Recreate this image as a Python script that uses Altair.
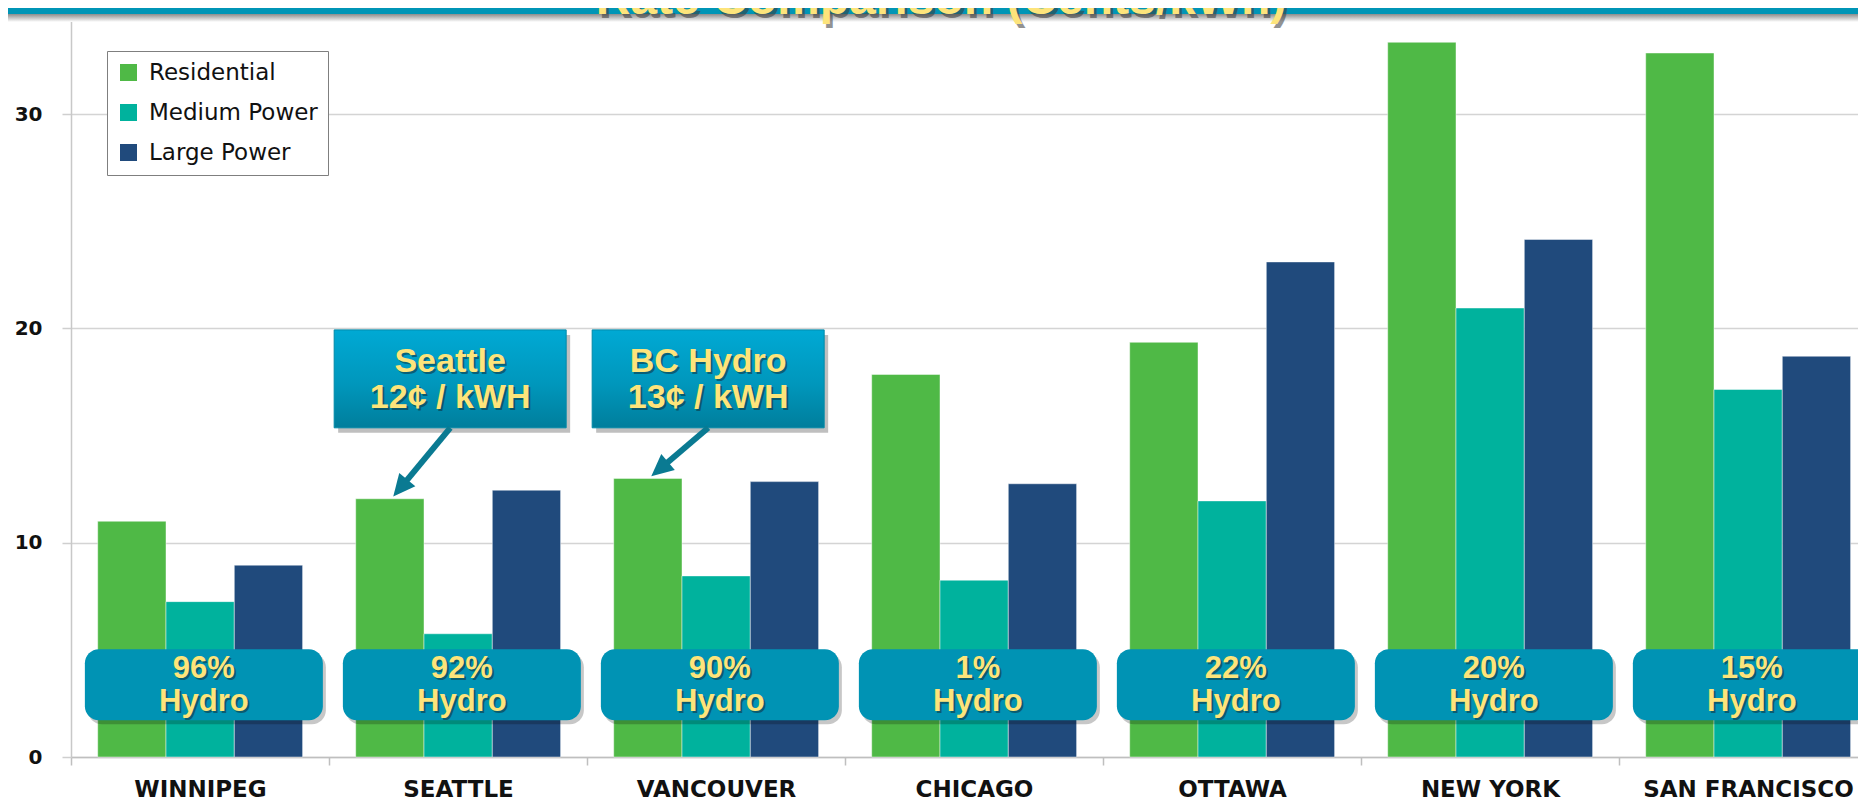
import json
import math
import altair as alt
import pandas as pd

# ---------------- data ----------------
cities = ["WINNIPEG", "SEATTLE", "VANCOUVER", "CHICAGO", "OTTAWA", "NEW YORK", "SAN FRANCISCO"]
series = ["Residential", "Medium Power", "Large Power"]
residential = [11.0, 12.05, 13.0, 17.85, 19.35, 33.35, 32.85]
medium_power = [7.25, 5.75, 8.45, 8.25, 11.95, 20.95, 17.15]
large_power = [8.95, 12.45, 12.85, 12.75, 23.1, 24.15, 18.7]
hydro_pct = [96, 92, 90, 1, 22, 20, 15]
callout_cities = ["SEATTLE", "VANCOUVER"]
callout_titles = ["Seattle", "BC Hydro"]
callout_rates = [12, 13]
title_text = "Rate Comparison (Cents/kWh)"

# ---------------- styling / layout ----------------
colors = ["#4FB946", "#00B29D", "#204A7C"]
YELLOW = "#FDE47B"
BOX = "#0093B4"
ARROW = "#0A7A92"
BANNER = "#0095B6"

PAD_LEFT = 63
PLOT_W = 1787
PLOT_H = 749
BAND_PX = 258.0
Y_MAX = 34.95
X_MAX = PLOT_W / BAND_PX
PX_Y = PLOT_H / Y_MAX
BAR_OFF = 26.7 / BAND_PX
BAR_W = 68.3 / BAND_PX

xs = alt.Scale(domain=[0, X_MAX], nice=False, zero=False)
ys = alt.Scale(domain=[0, Y_MAX], nice=False, zero=True)

# bars table
values = {"Residential": residential, "Medium Power": medium_power, "Large Power": large_power}
rows = []
for i, c in enumerate(cities):
    for j, s in enumerate(series):
        x0 = i + BAR_OFF + j * BAR_W
        rows.append({"city": c, "series": s, "x": x0, "x2": x0 + BAR_W, "value": values[s][i]})
bars_df = pd.DataFrame(rows)

label_expr = json.dumps(cities) + "[datum.value]"

X_AXIS = alt.Axis(values=list(range(len(cities))), labelExpr=label_expr, labelOffset=BAND_PX / 2,
                  tickSize=8, grid=False, title=None, labelFlush=False, labelOverlap=False,
                  labelBound=False, labelLimit=400, labelFont="DejaVu Sans", labelFontWeight="bold",
                  labelFontSize=23, labelColor="#111111", labelPadding=13,
                  domainColor="#BFBFBF", tickColor="#BFBFBF", domainWidth=1.5, tickWidth=1.5)
Y_AXIS = alt.Axis(values=[0, 10, 20, 30], title=None, grid=True, gridColor="#D4D4D4",
                  gridWidth=1.5, tickSize=9, tickColor="#CFCFCF", tickWidth=1.5,
                  domainColor="#C8C8C8", domainWidth=1.5, labelFont="DejaVu Sans",
                  labelFontWeight="bold", labelFontSize=20, labelColor="#111111", labelPadding=20)


def X(field):
    return alt.X(f"{field}:Q", scale=xs, axis=X_AXIS, title=None)


def Y(field):
    return alt.Y(f"{field}:Q", scale=ys, axis=Y_AXIS, title=None)


legend = alt.Legend(title=None, orient="none", legendX=36, legendY=43, fillColor="white",
                    strokeColor="#7F7F7F", padding=10, symbolType="square",
                    symbolSize=289, symbolStrokeWidth=0, symbolOpacity=1,
                    labelFont="DejaVu Sans", labelFontSize=23, labelColor="#111111",
                    labelLimit=400, rowPadding=16, labelOffset=9)

bars = alt.Chart(bars_df).mark_rect(stroke="white", strokeWidth=1, strokeOpacity=0.45).encode(
    x=X("x"),
    x2="x2:Q",
    y=Y("value"),
    y2=alt.datum(0),
    color=alt.Color("series:N", scale=alt.Scale(domain=series, range=colors), legend=legend),
)

# ---------------- hydro boxes ----------------
HB_HALF = 119 / BAND_PX
hrows = []
for i, p in enumerate(hydro_pct):
    cx = i + 0.5 + 0.015
    hrows.append({"cx": cx, "x": cx - HB_HALF, "x2": cx + HB_HALF,
                  "sx": cx - HB_HALF + 3 / BAND_PX, "sx2": cx + HB_HALF + 3 / BAND_PX,
                  "y": 5.03, "y2": 1.72, "sy": 5.03 - 4 / PX_Y, "sy2": 1.72 - 4 / PX_Y,
                  "l1": f"{p}%", "l2": "Hydro", "ty1": 4.09, "ty2": 2.55})
hydro_df = pd.DataFrame(hrows)

hb_shadow = alt.Chart(hydro_df).mark_rect(cornerRadius=14, color="#000000", opacity=0.22).encode(
    x=X("sx"), x2="sx2:Q", y=Y("sy"), y2="sy2:Q")
hb_box = alt.Chart(hydro_df).mark_rect(cornerRadius=14, color=BOX).encode(
    x=X("x"), x2="x2:Q", y=Y("y"), y2="y2:Q")


def text_pair(df, xfield, yfield, tfield, size):
    base = dict(font="Liberation Sans", fontWeight="bold", fontSize=size, align="center",
                baseline="middle")
    sh = alt.Chart(df).mark_text(color="#10303C", opacity=0.55, dx=2, dy=2, **base).encode(
        x=X(xfield), y=Y(yfield), text=f"{tfield}:N")
    tx = alt.Chart(df).mark_text(color=YELLOW, **base).encode(
        x=X(xfield), y=Y(yfield), text=f"{tfield}:N")
    return [sh, tx]


hydro_texts = text_pair(hydro_df, "cx", "ty1", "l1", 31) + text_pair(hydro_df, "cx", "ty2", "l2", 31)

# ---------------- callouts ----------------
crows = []
arows = []
for k, c in enumerate(callout_cities):
    i = cities.index(c)
    x0 = i + 0.02
    x1 = x0 + 232 / BAND_PX
    top, bot = 19.93, 15.36
    crows.append({"x": x0, "x2": x1, "y": top, "y2": bot,
                  "sx": x0 + 4 / BAND_PX, "sx2": x1 + 4 / BAND_PX,
                  "sy": top - 5 / PX_Y, "sy2": bot - 5 / PX_Y,
                  "cx": (x0 + x1) / 2, "t1": callout_titles[k],
                  "t2": f"{callout_rates[k]}\u00a2 / kWH", "ty1": 18.43, "ty2": 16.75})
    tx = i + BAR_OFF + 0.55 * BAR_W
    ty = residential[i] + 0.1
    sx = x0 + 0.45
    sy = bot
    dx = (tx - sx) * BAND_PX
    dys = -(ty - sy) * PX_Y
    L = math.hypot(dx, dys)
    ang = (math.degrees(math.atan2(dx, -dys)) + 360) % 360
    ex = tx - (dx / L) * 14 / BAND_PX
    ey = ty + (dys / L) * 14 / PX_Y
    arows.append({"sx": sx, "sy": sy, "ex": ex, "ey": ey, "tx": tx, "ty": ty, "ang": ang})
call_df = pd.DataFrame(crows)
arrow_df = pd.DataFrame(arows)

grad = alt.Gradient(gradient="linear", x1=0, x2=0, y1=0, y2=1,
                    stops=[alt.GradientStop(color="#00A9D4", offset=0),
                           alt.GradientStop(color="#0097BC", offset=0.55),
                           alt.GradientStop(color="#007E9C", offset=1)])
cb_shadow = alt.Chart(call_df).mark_rect(color="#000000", opacity=0.25).encode(
    x=X("sx"), x2="sx2:Q", y=Y("sy"), y2="sy2:Q")
cb_box = alt.Chart(call_df).mark_rect(color=grad, stroke="#0089A8", strokeWidth=1).encode(
    x=X("x"), x2="x2:Q", y=Y("y"), y2="y2:Q")
call_texts = text_pair(call_df, "cx", "ty1", "t1", 34) + text_pair(call_df, "cx", "ty2", "t2", 34)

arrow_line = alt.Chart(arrow_df).mark_rule(color=ARROW, strokeWidth=6).encode(
    x=X("sx"), x2="ex:Q", y=Y("sy"), y2="ey:Q")
arrow_head = alt.Chart(arrow_df).mark_point(shape="M0,0L0.95,2L-0.95,2Z", filled=True,
                                             size=484, opacity=1, color=ARROW).encode(
    x=X("tx"), y=Y("ty"), angle=alt.Angle("ang:Q", scale=None))

# ---------------- banner + title ----------------
title_df = pd.DataFrame({"t": [title_text]})
banner = alt.Chart(title_df).mark_rect(color=BANNER).encode(
    x=alt.value(-PAD_LEFT), x2=alt.value(PLOT_W), y=alt.value(0), y2=alt.value(6))
banner_shadow = alt.Chart(title_df).mark_rect(
    color=alt.Gradient(gradient="linear", x1=0, x2=0, y1=0, y2=1,
                       stops=[alt.GradientStop(color="#8C8C8C", offset=0),
                              alt.GradientStop(color="#FFFFFF", offset=1)])).encode(
    x=alt.value(-PAD_LEFT), x2=alt.value(PLOT_W), y=alt.value(6), y2=alt.value(14))
tfont = dict(font="Liberation Sans Narrow, Liberation Sans", fontWeight="bold", fontSize=48,
             align="center", baseline="alphabetic")
title_shadow = alt.Chart(title_df).mark_text(color="#3A3A3A", opacity=0.55, **tfont).encode(
    x=alt.value(873), y=alt.value(10), text="t:N")
title = alt.Chart(title_df).mark_text(color=YELLOW, **tfont).encode(
    x=alt.value(870), y=alt.value(6), text="t:N")

chart = alt.layer(
    bars, hb_shadow, hb_box, *hydro_texts, cb_shadow, cb_box, *call_texts,
    arrow_line, arrow_head, banner_shadow, banner, title_shadow, title,
).properties(
    width=PLOT_W, height=PLOT_H,
    padding={"left": PAD_LEFT, "top": 0, "right": 0, "bottom": 42},
    autosize=alt.AutoSizeParams(type="none"),
    background="white",
).configure_view(stroke=None)

chart.save("out.html", embed_options={"renderer": "svg", "actions": False})
